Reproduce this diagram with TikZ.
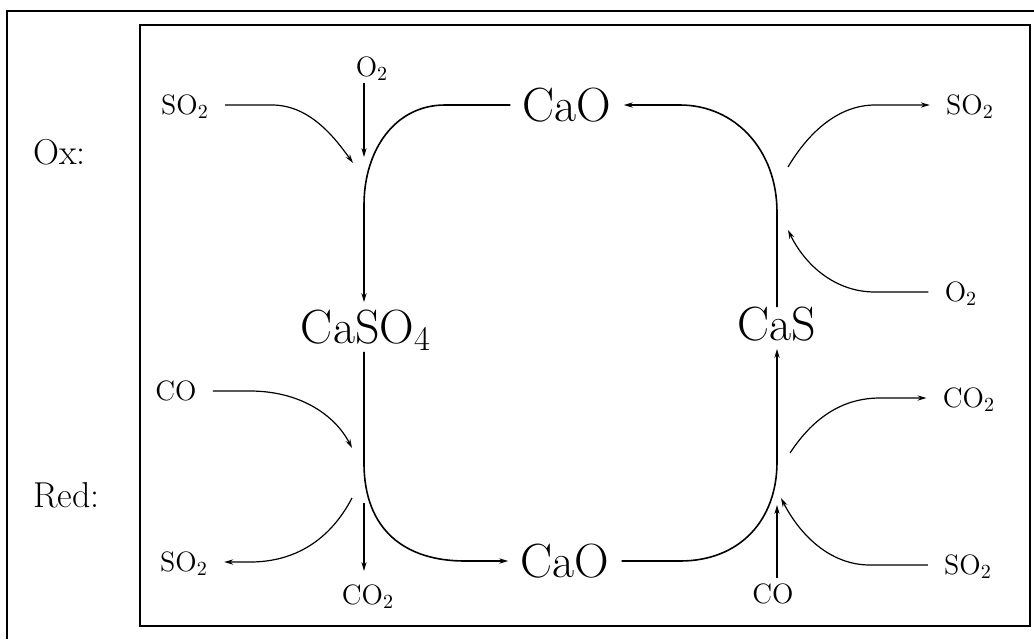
\documentclass[tikz,border=0pt]{standalone}
\usetikzlibrary{arrows.meta}
\begin{document}
\begin{tikzpicture}[x=0.5pt,y=-0.5pt,
  flow/.style={line width=0.8pt},
  side/.style={line width=0.6pt},
  tip/.style={-{Stealth[length=4.5pt,width=2.6pt]}},
  big/.style={font=\fontsize{24}{28}\selectfont, text height=16.5pt, text depth=0pt, inner xsep=6pt, inner ysep=4pt},
  lbl/.style={font=\fontsize{14}{16}\selectfont, text height=9.6pt, text depth=0pt, inner xsep=8pt, inner ysep=3pt},
  rowlbl/.style={font=\fontsize{18}{20}\selectfont, inner sep=0pt, anchor=west},
  frame/.style={line width=1.2pt},
  box/.style={line width=0.7pt}]
\useasboundingbox (0,0) rectangle (1034,639);
% frames
\draw[frame] (7,639) -- (7,11) -- (1034,11);
\draw[box] (140,25) rectangle (1030,626);
% column references
\coordinate (L) at (364,0);
\coordinate (R) at (777,0);
% row labels
\node[rowlbl] (ox) at (33,152) {Ox:};
\node[rowlbl] (red) at (33,495) {Red:};
% main species
\node[big] (caoT) at (567,105) {CaO};
\node[big] (caso4) at (366,327) {CaSO$_4$};
\node[big] (cas) at (777,324) {CaS};
\node[big] (caoB) at (565,561) {CaO};
% small labels
\node[lbl] (so2tl) at (185,105) {SO$_2$};
\node[lbl] (o2t) at (372,67) {O$_2$};
\node[lbl] (col) at (176,391) {CO};
\node[lbl] (so2bl) at (184,562) {SO$_2$};
\node[lbl] (co2b) at (368,595) {CO$_2$};
\node[lbl] (so2tr) at (970,105) {SO$_2$};
\node[lbl] (o2r) at (961,292) {O$_2$};
\node[lbl] (co2r) at (969,398) {CO$_2$};
\node[lbl] (so2br) at (968,565) {SO$_2$};
\node[lbl] (cob) at (773,594) {CO};
% junction ends
\coordinate (jE) at (353,163);
\coordinate (jF) at (364,157);
\coordinate (jG) at (352,448);
\coordinate (jH) at (352,498);
\coordinate (jI) at (364,503);
\coordinate (jJ) at (777,505);
\coordinate (jK) at (781,498);
\coordinate (jL) at (790,453);
\coordinate (jM) at (788,230);
\coordinate (jN) at (788,167);
% main cycle
\draw[flow,tip] (caoT.west) -- (445,105) .. controls (395,105) and (364,150) .. (364,205) -- (caso4.north -| L);
\draw[flow,tip] (caso4.south -| L) -- (364,463) .. controls (364,530) and (405,561) .. (465,561) -- (caoB.west);
\draw[flow,tip] (caoB.east) -- (680,561) .. controls (740,561) and (777,520) .. (777,462) -- (cas.south -| R);
\draw[flow,tip,shorten <=-4pt] (cas.north -| R) -- (777,212) .. controls (777,150) and (735,105) .. (680,105) -- (caoT.east);
% oxidizer side
\draw[side,tip] (so2tl.east) -- (272,105) .. controls (310,105) and (335,138) .. (jE);
\draw[side,tip] (o2t.south -| L) -- (jF);
\draw[side,tip] (jN) .. controls (810,130) and (840,105) .. (875,105) -- (so2tr.west);
\draw[side,tip] (o2r.west) -- (875,292) .. controls (835,292) and (805,265) .. (jM);
% reducer side
\draw[side,tip] (col.east) -- (250,391) .. controls (300,391) and (335,415) .. (jG);
\draw[side,tip] (jH) .. controls (330,540) and (295,562) .. (250,562) -- (so2bl.east);
\draw[side,tip,shorten >=4pt] (jI) -- (co2b.north -| L);
\draw[flow,tip] (cob.north -| R) -- (jJ);
\draw[side,tip] (so2br.west) -- (870,565) .. controls (830,565) and (800,535) .. (jK);
\draw[side,tip] (jL) .. controls (815,415) and (845,398) .. (880,398) -- (co2r.west);
\end{tikzpicture}
\end{document}
